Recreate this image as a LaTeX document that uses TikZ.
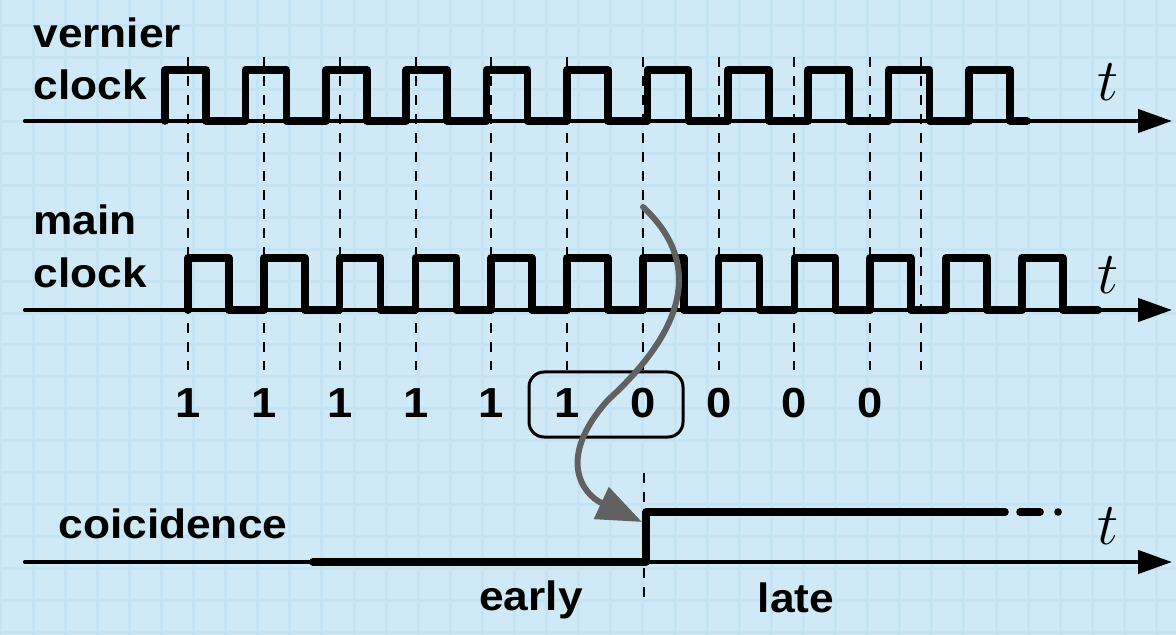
\documentclass[tikz,border=0pt]{standalone}
\usepackage{fontspec}
\usepackage{graphicx}
\usetikzlibrary{arrows.meta}
\newfontfamily\labelfont[FakeStretch=1.08]{Liberation Sans}
\definecolor{paper}{RGB}{207,234,246}
\definecolor{gridline}{RGB}{196,228,244}
\definecolor{flow}{RGB}{97,97,97}
\newcommand{\timevarsym}{\scalebox{1.2}{$t$}}

\begin{document}
\begin{tikzpicture}[x=0.5pt,y=-0.5pt,
  trace/.style={line width=3.8pt, line join=round, line cap=round},
  timeaxis/.style={line width=2.1pt, line cap=round, -{Triangle[length=17pt,width=11.5pt]}},
  guide/.style={line width=1.3pt, dash pattern=on 5pt off 4.5pt},
  siglabel/.style={font=\labelfont\bfseries\fontsize{20.5}{24}\selectfont, inner sep=0pt, anchor=base west},
  bitlabel/.style={font=\labelfont\bfseries\fontsize{21}{25}\selectfont, inner sep=0pt, anchor=base},
  timevar/.style={font=\fontsize{24.88}{30}\selectfont, inner sep=0pt, anchor=base},
]
% paper with a light grid
\useasboundingbox (0,0) rectangle (1176,635);
\fill[paper] (0,0) rectangle (1176,635);
\foreach \i in {0,...,36}
  \draw[gridline, line width=1.5pt] ({0.9+32.1*\i},0) -- ({0.9+32.1*\i},635);
\foreach \j in {0,...,19}
  \draw[gridline, line width=1.5pt] (0,{25.5+31.95*\j}) -- (1176,{25.5+31.95*\j});

% sampling instants (rising edges of the main clock)
\foreach \x in {188,264,340,416,491,567,643,719,794,870,921}
  \draw[guide] (\x,57) -- (\x,370);
\draw[guide] (644,473) -- (644,602);

% time axes
\draw[timeaxis] (25,121) -- (1172,121);
\draw[timeaxis] (25,310) -- (1172,310);
\draw[timeaxis] (25,562) -- (1172,562);

% vernier clock
\draw[trace] (165,121)
  \foreach \k in {0,...,10}{
    -- ({165+80.4*\k},121) -- ({165+80.4*\k},70)
    -- ({206+80.4*\k},70) -- ({206+80.4*\k},121)}
  -- (1027,121);

% main clock
\draw[trace] (188,310)
  \foreach \k in {0,...,11}{
    -- ({188+75.8*\k},310) -- ({188+75.8*\k},258)
    -- ({229+75.8*\k},258) -- ({229+75.8*\k},310)}
  -- (1098,310);

% coincidence output
\draw[trace] (313,562) -- (646,562) -- (646,512) -- (1005,512);
\draw[trace] (1020,512) -- (1040,512);
\fill (1058,512) circle (1.9pt);

% signal names
\node[siglabel] (vname1) at (33,48) {vernier};
\node[siglabel] (vname2) at (33,100) {clock};
\node[siglabel] (mname1) at (33,235) {main};
\node[siglabel] (mname2) at (33,288) {clock};
\node[siglabel] (cname) at (58,538) {coicidence};
\node[siglabel, anchor=base] (early) at (531,610) {early};
\node[siglabel, anchor=base] (late) at (796,612) {late};

% time variables
\node[timevar] (tv) at (1108,101) {\timevarsym};
\node[timevar] (tm) at (1108,294) {\timevarsym};
\node[timevar] (tc) at (1108,544) {\timevarsym};

% sampled bits
\foreach \x/\b [count=\i] in {188/1,264/1,340/1,416/1,491/1,567/1,643/0,719/0,794/0,870/0}
  \node[bitlabel] (bit\i) at (\x,417) {\b};
\draw[line width=1.5pt, rounded corners=7.5pt] (529,372) rectangle (683,437);

% transition from the sampled bits to the coincidence edge
\coordinate (from) at (643,207);
\coordinate (to) at (642,522);
\draw[flow, line width=3pt, line cap=round, -{Triangle[length=22.5pt,width=17pt]}]
  (from) .. controls (700,260) and (690,325) .. (608,400)
         .. controls (556,458) and (582,494) .. (to);
\end{tikzpicture}
\end{document}
